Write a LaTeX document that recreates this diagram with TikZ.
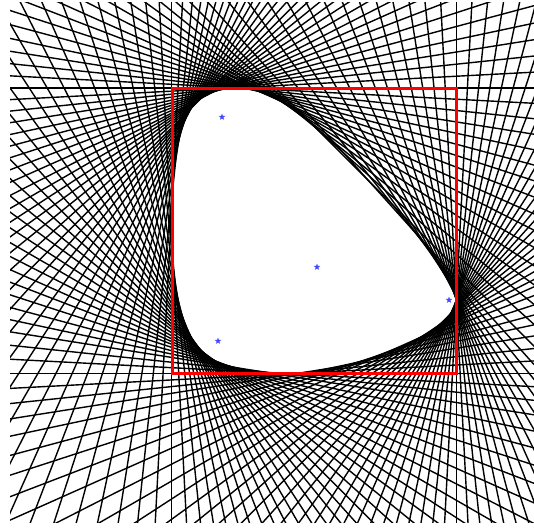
\documentclass[tikz,border=0pt]{standalone}
\usetikzlibrary{shapes.geometric}
\definecolor{starblue}{RGB}{70,70,255}
\tikzset{
  envline/.style={black, line width=1.4pt},
  bbox/.style={red, line width=3pt},
  starmark/.style={star, star points=5, star point ratio=2.4, minimum size=7pt, inner sep=0pt, fill=starblue, draw=none}
}
\def\ptlist{242/88.8, 258.3/92, 280/101.7, 296.7/113.3, 313.3/126.7, 330/143.3, 346.7/160.3, 363.3/177.6, 380/195.3, 396.7/213.3, 413.3/231.6, 420/240, 431/255, 446.7/280, 453.3/293.3, 455.5/300, 450/313.3, 440/323.3, 420/336.7, 390/350, 356.7/361.7, 340/365, 298/372.5, 275/372.3, 251.7/369.3, 231.7/366, 215/360, 201.7/350, 191.7/336.7, 183.3/316.7, 178.3/296.7, 175/273, 172.5/240, 172.5/208.7, 174.3/182, 176.7/158.7, 180/138.7, 185/122, 191.7/108.7, 201.7/98.7, 215/92, 228/89}
\begin{document}
\begin{tikzpicture}[x=1pt,y=-1pt]
\useasboundingbox (0,0) rectangle (534,530);
\begin{scope}
\clip (10,2) rectangle (534,522);
\foreach \k in {0,...,119} {
  \pgfmathsetmacro{\angA}{\k*3}
  \pgfmathsetmacro{\cA}{cos(\angA)}
  \pgfmathsetmacro{\sA}{sin(\angA)}
  \global\def\hmax{-10000}
  \foreach \px/\py in \ptlist {
    \pgfmathsetmacro{\vA}{\px*\cA+\py*\sA}
    \pgfmathparse{max(\vA,\hmax)}
    \global\let\hmax\pgfmathresult
  }
  \pgfmathsetmacro{\hh}{\hmax+0.8}
  \coordinate (la) at (\hh*\cA - 900*\sA, \hh*\sA + 900*\cA);
  \coordinate (lb) at (\hh*\cA + 900*\sA, \hh*\sA - 900*\cA);
  \draw[envline] (la) -- (lb);
}
\end{scope}
\draw[bbox] (172,88) rectangle (456,373);
\node[starmark] (s1) at (222,117) {};
\node[starmark] (s2) at (317,267) {};
\node[starmark] (s3) at (449,300) {};
\node[starmark] (s4) at (218,341) {};
\end{tikzpicture}
\end{document}
